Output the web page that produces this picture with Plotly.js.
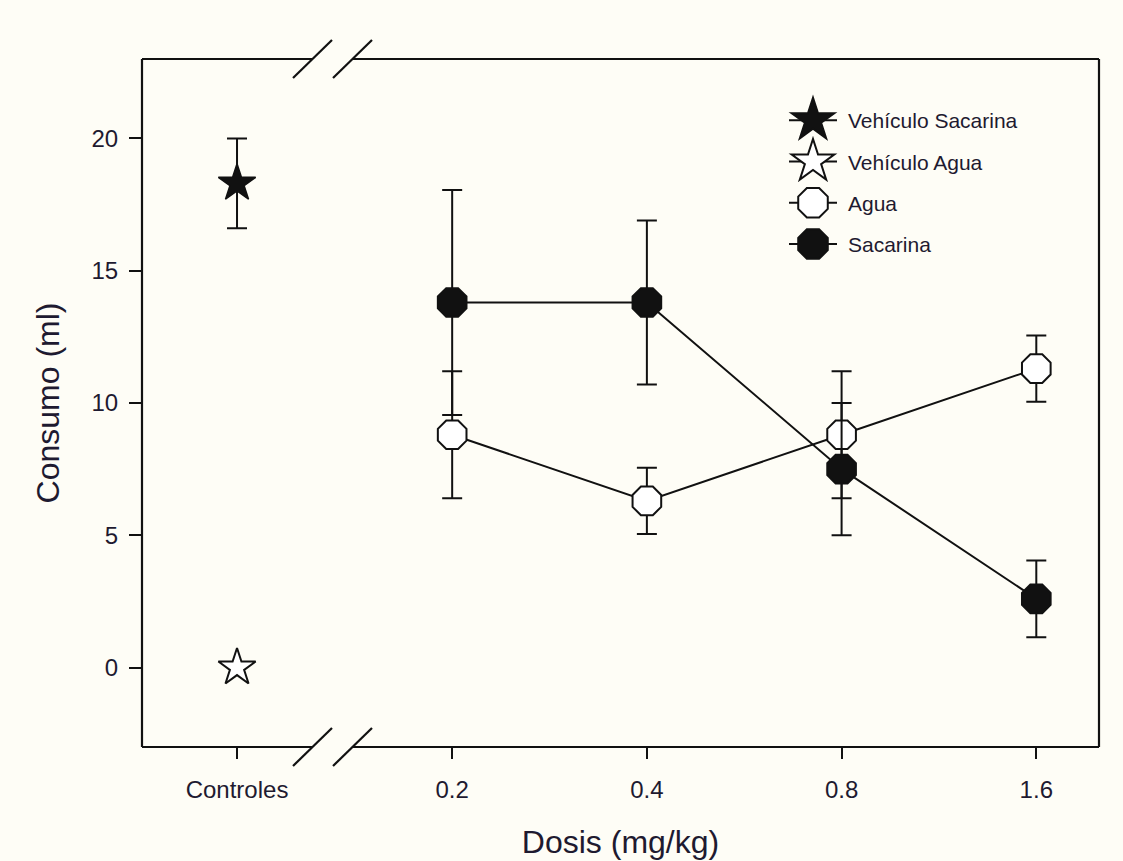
<!DOCTYPE html>
<html>
<head>
<meta charset="utf-8">
<script src="https://cdn.plot.ly/plotly-3.0.1.min.js"></script>
<style>
  html, body { margin: 0; padding: 0; background: #fefdf6; }
  #chart { width: 1123px; height: 861px; }
</style>
</head>
<body>
<div id="chart"></div>
<script>
// ---- Data ----
const categories = ['Controles', '0.2', '0.4', '0.8', '1.6'];
const doseLabels = ['0.2', '0.4', '0.8', '1.6'];

const vehSacarinaMean = [18.3];
const vehSacarinaErr = [1.7];
const vehAguaMean = [0];

const aguaMean = [8.8, 6.3, 8.8, 11.3];
const aguaErr = [2.4, 1.25, 2.4, 1.25];

const sacarinaMean = [13.8, 13.8, 7.5, 2.6];
const sacarinaErr = [4.25, 3.1, 2.5, 1.45];

const yTicks = [0, 5, 10, 15, 20];

// ---- Layout helpers (broken axis: extra gap after "Controles") ----
const BREAK_EXTRA = 0.105;
function posOf(label) {
  const i = categories.indexOf(label);
  return i === 0 ? 0 : i + BREAK_EXTRA;
}
const ctrlX = [posOf('Controles')];
const doseX = doseLabels.map(posOf);

const W = 1123, H = 861;
const M = { l: 142, r: 24, t: 59, b: 114 };
const PW = W - M.l - M.r, PH = H - M.t - M.b;
const px = p => (p - M.l) / PW;
const py = p => (H - M.b - p) / PH;

const ink = '#111111';
const txt = '#1e1a30';
const bg = '#fefdf6';
const FONT = 'Arial, "Liberation Sans", sans-serif';

const errStyle = { type: 'data', thickness: 2, width: 10, color: ink };

const traces = [
  {
    name: 'Vehículo Sacarina', legendgroup: 'a',
    x: ctrlX, y: vehSacarinaMean, mode: 'lines+markers',
    line: { color: ink, width: 2 },
    marker: { symbol: 'star', size: 28, color: ink, line: { color: ink, width: 1.5 } },
    error_y: Object.assign({ array: vehSacarinaErr }, errStyle)
  },
  {
    name: 'Vehículo Agua', legendgroup: 'b',
    x: ctrlX, y: vehAguaMean, mode: 'lines+markers',
    line: { color: ink, width: 2 },
    marker: { symbol: 'star', size: 28, color: '#ffffff', line: { color: ink, width: 2 } }
  },
  {
    name: 'Agua', legendgroup: 'c',
    x: doseX, y: aguaMean, mode: 'lines+markers',
    line: { color: ink, width: 2 },
    marker: { symbol: 'octagon', size: 31, color: '#ffffff', line: { color: ink, width: 2 } },
    error_y: Object.assign({ array: aguaErr }, errStyle)
  },
  {
    name: 'Sacarina', legendgroup: 'd',
    x: doseX, y: sacarinaMean, mode: 'lines+markers',
    line: { color: ink, width: 2 },
    marker: { symbol: 'octagon', size: 31, color: ink, line: { color: ink, width: 2 } },
    error_y: Object.assign({ array: sacarinaErr }, errStyle)
  }
];

const gapL = px(312.5), gapR = px(352.5);
const lineS = { color: ink, width: 2.2 };
function seg(x0, y0, x1, y1) {
  return { type: 'line', xref: 'paper', yref: 'paper', x0, y0, x1, y1, line: lineS, layer: 'above' };
}
const shapes = [
  seg(0, 0, 0, 1),
  seg(1, 0, 1, 1),
  seg(0, 0, gapL, 0), seg(gapR, 0, 1, 0),
  seg(0, 1, gapL, 1), seg(gapR, 1, 1, 1),
  // break marks bottom
  seg(px(293), py(766), px(332), py(728)),
  seg(px(333), py(766), px(372), py(728)),
  // break marks top
  seg(px(293), py(78), px(332), py(40)),
  seg(px(333), py(78), px(372), py(40))
];

const layout = {
  width: W, height: H,
  margin: M,
  paper_bgcolor: bg, plot_bgcolor: bg,
  font: { family: FONT, color: txt },
  showlegend: true,
  legend: {
    x: px(808), y: py(100), xanchor: 'left', yanchor: 'top',
    bgcolor: 'rgba(0,0,0,0)', borderwidth: 0,
    font: { family: FONT, size: 21, color: txt },
    tracegroupgap: 11, traceorder: 'grouped'
  },
  xaxis: {
    range: [-0.488, 4.427],
    tickvals: categories.map(posOf), ticktext: categories,
    ticks: 'outside', ticklen: 11, tickwidth: 2, tickcolor: ink,
    showline: false, showgrid: false, zeroline: false,
    tickfont: { family: FONT, size: 24, color: txt },
    ticklabelstandoff: 10,
    title: { text: 'Dosis (mg/kg)', font: { family: FONT, size: 32, color: txt }, standoff: 28 }
  },
  yaxis: {
    range: [-3, 23],
    tickvals: yTicks,
    ticks: 'outside', ticklen: 12, tickwidth: 2, tickcolor: ink,
    showline: false, showgrid: false, zeroline: false,
    tickfont: { family: FONT, size: 24, color: txt },
    ticklabelstandoff: 6,
    title: { text: 'Consumo (ml)', font: { family: FONT, size: 32, color: txt }, standoff: 22 }
  },
  shapes: shapes
};

Plotly.newPlot('chart', traces, layout, { displayModeBar: false, staticPlot: true }).then(gd => {
  // let the enlarged key glyphs draw outside the legend's clip box
  gd.querySelectorAll('.legend [clip-path]').forEach(el => el.removeAttribute('clip-path'));
  // enlarge legend symbols to match the reference's bigger key glyphs
  gd.querySelectorAll('.legend .traces').forEach(item => {
    const layers = item.querySelector('g.layers');
    if (layers) layers.setAttribute('transform', 'translate(-15,0)');
    item.querySelectorAll('.legendlines path').forEach(p => p.setAttribute('d', 'M-4,0h48'));
    item.querySelectorAll('.legendpoints path.scatterpts').forEach(p => {
      const t = p.getAttribute('transform') || '';
      p.setAttribute('transform', t + ' scale(2)');
      p.style.strokeWidth = '1px';
    });
  });
});
</script>
</body>
</html>
